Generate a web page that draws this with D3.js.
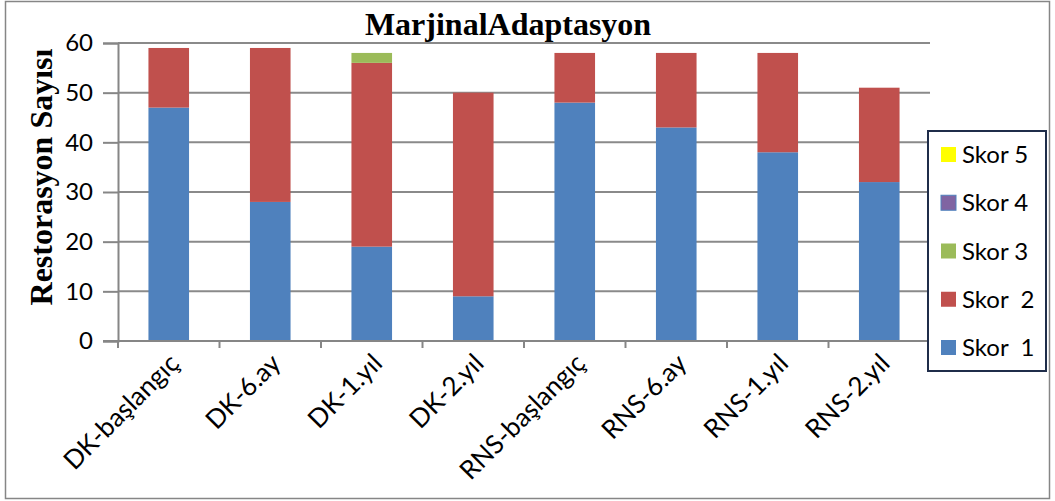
<!DOCTYPE html>
<html lang="tr">
<head>
<meta charset="UTF-8">
<title>MarjinalAdaptasyon</title>
<script src="https://d3js.org/d3.v7.min.js"></script>
<style>
  body { margin: 0; background: #fff; }
  svg { display: block; }
</style>
</head>
<body>
<div id="chart"></div>
<script>
// categories and values
const categories = ["DK-başlangıç", "DK-6.ay", "DK-1.yıl", "DK-2.yıl",
                    "RNS-başlangıç", "RNS-6.ay", "RNS-1.yıl", "RNS-2.yıl"];
const skor1 = [47, 28, 19, 9, 48, 43, 38, 32];
const skor2 = [12, 31, 37, 41, 10, 15, 20, 19];
const skor3 = [0, 0, 2, 0, 0, 0, 0, 0];
const skor4 = [0, 0, 0, 0, 0, 0, 0, 0];
const skor5 = [0, 0, 0, 0, 0, 0, 0, 0];
const seriesNames = ["Skor  1", "Skor  2", "Skor 3", "Skor 4", "Skor 5"];
const yTicks = [0, 10, 20, 30, 40, 50, 60];

const W = 1055, H = 501;
const plot = { left: 118, right: 930, top: 43, bottom: 341 };
const colors = ["#4F81BD", "#C0504D", "#9BBB59", "#8064A2", "#FFFF00"];
const sansFont = "Lato, 'Liberation Sans', sans-serif";
const serifFont = "'Liberation Serif', 'Times New Roman', serif";

const svg = d3.select("#chart").append("svg")
  .attr("width", W).attr("height", H);

// outer chart border
svg.append("rect")
  .attr("x", 5.5).attr("y", 1.5).attr("width", W - 11).attr("height", H - 4)
  .attr("fill", "none").attr("stroke", "#868686").attr("stroke-width", 1.5);

const x = d3.scaleBand().domain(categories)
  .range([plot.left, plot.right]).paddingInner(0.6).paddingOuter(0.3);
const xBand = d3.scaleBand().domain(categories).range([plot.left, plot.right]);
const y = d3.scaleLinear().domain([0, 60]).range([plot.bottom, plot.top]);

// gridlines
svg.append("g").selectAll("line").data(yTicks.filter(d => d > 0)).join("line")
  .attr("x1", plot.left).attr("x2", plot.right)
  .attr("y1", d => y(d)).attr("y2", d => y(d))
  .attr("stroke", "#8a8a8a").attr("stroke-width", 2);

// stacked bars
const rows = categories.map((c, i) => ({
  cat: c, s0: skor1[i], s1: skor2[i], s2: skor3[i], s3: skor4[i], s4: skor5[i]
}));
const stack = d3.stack().keys(["s0", "s1", "s2", "s3", "s4"]);
const layers = stack(rows);

svg.append("g").selectAll("g").data(layers).join("g")
  .attr("fill", (d, i) => colors[i])
  .selectAll("rect").data(d => d.filter(p => p[1] > p[0])).join("rect")
  .attr("x", d => x(d.data.cat))
  .attr("width", x.bandwidth())
  .attr("y", d => y(d[1]))
  .attr("height", d => y(d[0]) - y(d[1]));

// y axis
const yAxis = svg.append("g")
  .attr("transform", `translate(${plot.left},0)`)
  .call(d3.axisLeft(y).tickValues(yTicks).tickSize(15).tickPadding(10));
yAxis.select(".domain").attr("stroke", "#868686").attr("stroke-width", 2);
yAxis.selectAll(".tick line").attr("stroke", "#868686").attr("stroke-width", 2);
yAxis.selectAll(".tick text")
  .attr("font-family", sansFont).attr("font-size", 24).attr("fill", "#000");

// x axis with ticks at band boundaries
const xAxisG = svg.append("g");
xAxisG.append("line")
  .attr("x1", plot.left - 15).attr("x2", plot.right)
  .attr("y1", plot.bottom).attr("y2", plot.bottom)
  .attr("stroke", "#868686").attr("stroke-width", 2);
xAxisG.selectAll("line.tk").data(categories).join("line")
  .attr("class", "tk")
  .attr("x1", d => xBand(d)).attr("x2", d => xBand(d))
  .attr("y1", plot.bottom).attr("y2", plot.bottom + 7)
  .attr("stroke", "#868686").attr("stroke-width", 2);
xAxisG.selectAll("text").data(categories).join("text")
  .attr("transform", d => `translate(${x(d) + x.bandwidth() / 2 + 12},${plot.bottom + 24}) rotate(-45)`)
  .attr("text-anchor", "end")
  .attr("font-family", sansFont).attr("font-size", 26).attr("fill", "#000")
  .text(d => d);

// title
svg.append("text")
  .attr("x", 508).attr("y", 35)
  .attr("text-anchor", "middle")
  .attr("font-family", serifFont)
  .attr("font-weight", "bold").attr("font-size", 32)
  .text("MarjinalAdaptasyon");

// y label
svg.append("text")
  .attr("transform", `translate(52,177) rotate(-90)`)
  .attr("text-anchor", "middle")
  .attr("font-family", serifFont)
  .attr("font-weight", "bold").attr("font-size", 32)
  .text("Restorasyon Sayısı");

// legend, Skor 5 on top
const legend = svg.append("g");
legend.append("rect")
  .attr("x", 928).attr("y", 131).attr("width", 118).attr("height", 240)
  .attr("fill", "#fff").attr("stroke", "#1F2D4A").attr("stroke-width", 2);
const legendOrder = [4, 3, 2, 1, 0];
const ly = d3.scalePoint().domain(legendOrder).range([155, 348]);
const items = legend.selectAll("g.item").data(legendOrder).join("g")
  .attr("class", "item")
  .attr("transform", d => `translate(941,${ly(d)})`);
items.append("rect")
  .attr("x", 0).attr("y", -8).attr("width", 15).attr("height", 15)
  .attr("fill", d => colors[d])
  .attr("stroke", d => d === 3 ? "#4F81BD" : "none").attr("stroke-width", 1);
items.append("text")
  .attr("x", 21).attr("y", 8)
  .attr("font-family", sansFont).attr("font-size", 24)
  .style("white-space", "pre")
  .text(d => seriesNames[d]);
</script>
</body>
</html>
